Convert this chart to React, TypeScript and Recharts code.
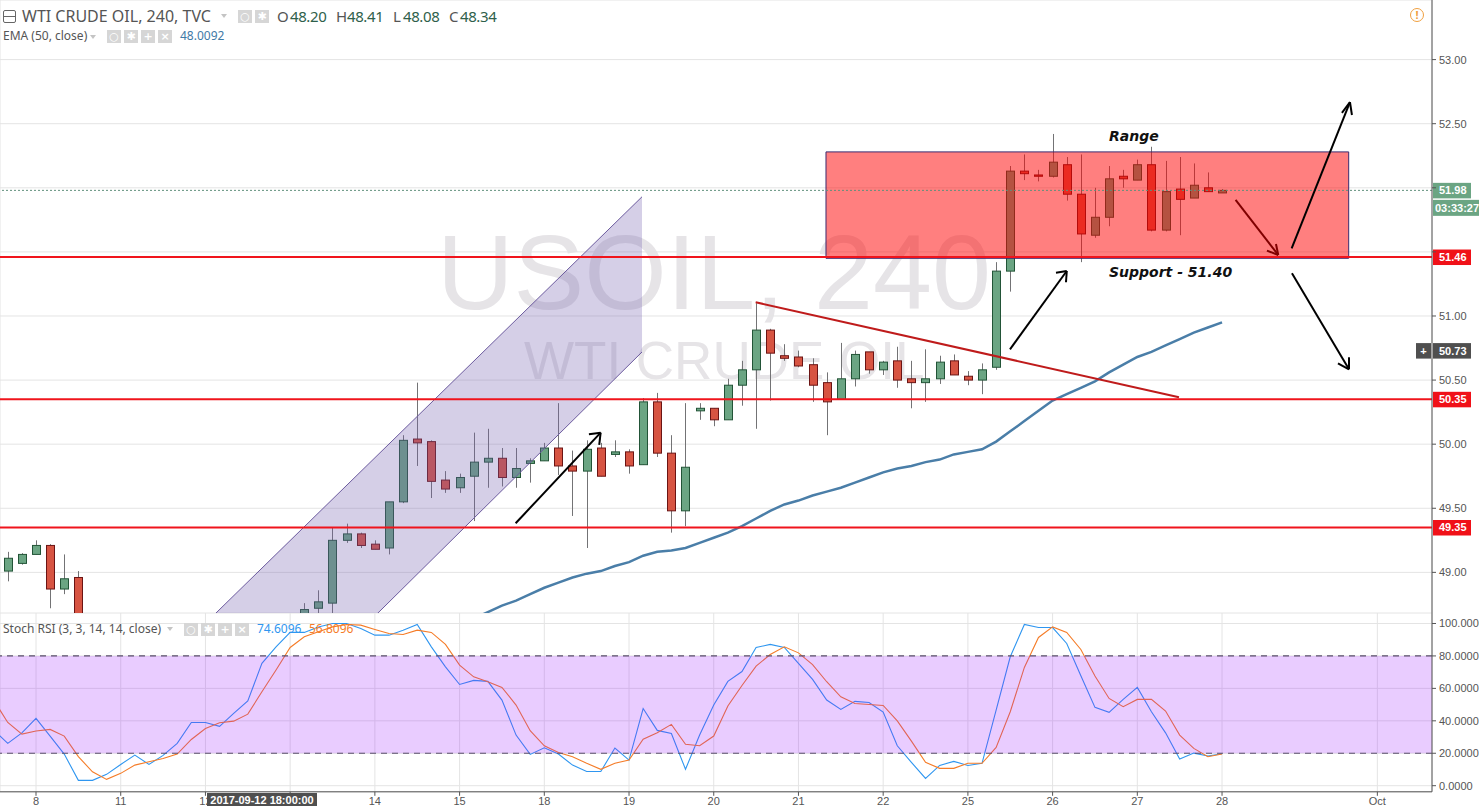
import {
  Area,
  Bar,
  CartesianGrid,
  ComposedChart,
  Line,
  ReferenceArea,
  ReferenceLine,
  XAxis,
  YAxis,
} from 'recharts';

// bar numbers: 0 is the first 4h bar of the 8th, six bars per day
const barDomain = [-2.55, 98.87];
const dayTicks = [0, 6, 12, 18, 24, 30, 36, 42, 48, 54, 60, 66, 72, 78, 84, 95];
// the 13 sits under the crosshair date, so it stays blank
const dayLabels = ['8', '11', '12', '', '14', '15', '18', '19', '20', '21', '22', '25', '26', '27', '28', 'Oct'];

const priceDomain = [48.683, 53.465];
const priceTicks = [49, 49.5, 50, 50.5, 51, 51.5, 52, 52.5, 53];
// these two labels are covered by the price tags
const coveredPriceTicks = [51.5, 52];
const rsiDomain = [-3.76, 106.47];
const rsiTicks = [0, 20, 40, 60, 80, 100];

// only the candles that show inside the price pane
const barSlots = [
  -2, -1, 0, 1, 2, 3, 19, 20, 21, 22, 23, 24, 25, 26, 27, 28, 29, 30, 31, 32, 33, 34, 35, 36, 37, 38, 39, 40, 41, 42,
  43, 44, 45, 46, 47, 48, 49, 50, 51, 52, 53, 54, 55, 56, 57, 58, 59, 60, 61, 62, 63, 64, 65, 66, 67, 68, 69, 70, 71,
  72, 73, 74, 75, 76, 77, 78, 79, 80, 81, 82, 83, 84,
];
const opens = [
  49.01, 49.07, 49.14, 49.21, 48.87, 48.96, 48.6, 48.72, 48.76, 49.25, 49.3, 49.22, 49.19, 49.55, 50.04, 50.02, 49.72,
  49.66, 49.75, 49.86, 49.89, 49.74, 49.85, 49.87, 49.97, 49.83, 49.79, 49.97, 49.92, 49.94, 49.84, 50.33, 49.93,
  49.48, 50.26, 50.28, 50.19, 50.46, 50.58, 50.89, 50.69, 50.68, 50.62, 50.48, 50.35, 50.51, 50.72, 50.58, 50.65,
  50.51, 50.48, 50.51, 50.65, 50.53, 50.5, 50.6, 51.35, 52.13, 52.1, 52.09, 52.18, 51.95, 51.63, 51.77, 52.09, 52.06,
  52.18, 51.67, 51.99, 51.92, 52.0, 51.96,
];
const highs = [
  49.16, 49.15, 49.25, 49.22, 49.14, 49.01, 48.76, 48.86, 49.35, 49.38, 49.31, 49.25, 49.55, 50.07, 50.48, 50.03,
  49.79, 49.77, 50.09, 50.12, 49.97, 49.97, 49.89, 50.01, 50.32, 49.95, 50.03, 50.01, 50.03, 49.96, 50.36, 50.4, 50.07,
  50.32, 50.32, 50.28, 50.51, 50.65, 51.1, 50.9, 50.78, 50.73, 50.67, 50.56, 50.79, 50.73, 50.72, 50.65, 50.76, 50.65,
  50.74, 50.69, 50.7, 50.57, 50.63, 51.42, 52.17, 52.26, 52.14, 52.42, 52.24, 52.26, 52.0, 52.17, 52.14, 52.22, 52.32,
  52.21, 52.24, 52.19, 52.12, 51.99,
];
const lows = [
  48.93, 49.06, 49.14, 48.72, 48.83, 48.5, 48.55, 48.65, 48.65, 49.23, 49.19, 49.18, 49.14, 49.54, 49.83, 49.58, 49.62,
  49.62, 49.4, 49.66, 49.67, 49.66, 49.7, 49.87, 49.76, 49.44, 49.19, 49.75, 49.9, 49.77, 49.84, 49.9, 49.31, 49.36,
  50.19, 50.14, 50.19, 50.3, 50.12, 50.34, 50.65, 50.6, 50.33, 50.07, 50.35, 50.45, 50.55, 50.54, 50.44, 50.28, 50.33,
  50.47, 50.54, 50.46, 50.39, 50.58, 51.19, 52.06, 52.05, 52.08, 51.9, 51.42, 51.61, 51.7, 52.0, 52.06, 51.66, 51.66,
  51.63, 51.92, 51.97, 51.96,
];
const closes = [
  49.11, 49.14, 49.21, 48.87, 48.95, 48.55, 48.71, 48.77, 49.25, 49.3, 49.21, 49.18, 49.55, 50.03, 50.01, 49.71, 49.65,
  49.74, 49.86, 49.89, 49.74, 49.81, 49.87, 49.97, 49.83, 49.79, 49.96, 49.75, 49.94, 49.83, 50.33, 49.93, 49.48,
  49.82, 50.28, 50.19, 50.46, 50.58, 50.89, 50.71, 50.67, 50.61, 50.46, 50.33, 50.51, 50.7, 50.58, 50.64, 50.5, 50.48,
  50.51, 50.64, 50.54, 50.5, 50.58, 51.35, 52.13, 52.11, 52.09, 52.2, 51.95, 51.64, 51.77, 52.07, 52.07, 52.18, 51.67,
  51.97, 51.91, 52.02, 51.97, 51.98,
];

// EMA 50, from bar 31 to bar 84
const emaFirstBar = 31;
const emaValues = [
  48.64, 48.69, 48.74, 48.78, 48.83, 48.88, 48.92, 48.96, 48.99, 49.01, 49.05, 49.08, 49.13, 49.16, 49.17, 49.19, 49.23,
  49.27, 49.31, 49.36, 49.42, 49.48, 49.53, 49.56, 49.6, 49.63, 49.66, 49.7, 49.74, 49.78, 49.81, 49.83, 49.86, 49.88,
  49.92, 49.94, 49.96, 50.02, 50.1, 50.18, 50.26, 50.34, 50.39, 50.44, 50.49, 50.56, 50.62, 50.68, 50.72, 50.77, 50.82,
  50.87, 50.91, 50.95,
];

// Stoch RSI, from bar -3 to bar 84
const rsiFirstBar = -3;
const rsiK = [
  34.3, 26.1, 32.6, 41.5, 30.6, 19.5, 3.3, 3.3, 7.0, 13.1, 18.9, 13.1, 18.7, 26.1, 39.0, 39.0, 36.6, 44.6, 52.2, 75.4,
  85.6, 94.5, 94.5, 97.9, 100, 100, 96.9, 92.8, 92.8, 95.9, 99.4, 85.6, 73.3, 62.4, 64.9, 64.3, 52.8, 31.2, 19.3, 23.4,
  19.5, 12.7, 8.8, 8.8, 23.2, 15.8, 47.6, 34.1, 32.2, 10.1, 31.2, 49.7, 64.3, 70.4, 85.2, 87.1, 85.2, 75.4, 65.5, 52.8,
  47.0, 52.0, 51.3, 45.4, 24.6, 14.4, 4.5, 12.5, 15.0, 12.5, 13.8, 46.6, 79.5, 99.4, 97.5, 97.5, 87.7, 67.8, 48.3, 45.2,
  53.2, 60.6, 45.6, 32.6, 16.4, 20.1, 18.3, 19.7,
];
const rsiD = [
  52.8, 39.0, 31.8, 33.7, 34.7, 30.6, 17.9, 8.6, 3.9, 7.6, 12.7, 14.8, 16.8, 19.5, 28.5, 35.3, 38.8, 39.8, 44.1, 57.9,
  71.3, 85.2, 91.8, 94.9, 97.9, 99.4, 99.0, 96.3, 93.8, 93.2, 95.9, 94.5, 87.1, 74.3, 67.1, 64.1, 60.6, 49.7, 33.9, 24.6,
  20.5, 17.9, 13.8, 10.1, 13.8, 15.8, 28.7, 32.6, 37.8, 25.5, 24.6, 30.6, 49.1, 61.8, 73.7, 80.9, 85.6, 81.9, 74.7, 64.1,
  54.8, 50.7, 50.1, 49.5, 40.0, 27.5, 14.4, 10.7, 10.7, 13.8, 13.8, 23.6, 45.6, 72.9, 91.4, 97.9, 94.5, 84.0, 67.6, 53.8,
  48.7, 53.2, 53.2, 46.0, 31.2, 23.0, 17.9, 19.5,
];

// drawings on the chart, as [bar, price]
const channelBars = [10.75, 42.92];
const channelLower = [47.217, 50.719];
const channelUpper = [48.468, 51.93];
const supportLevels = [51.46, 50.35, 49.35];
const trendLine = [[50.97, 51.107], [80.95, 50.366]];
const arrowUnderRange = [[84.96, 51.905], [87.98, 51.476], [87.82, 51.562], [87.18, 51.51]];
const arrowsOverRange = [
  [[33.97, 49.383], [39.99, 50.09], [39.16, 50.077], [39.89, 49.994]],
  [[68.98, 50.74], [73.0, 51.351], [72.24, 51.338], [72.95, 51.263]],
  [[88.93, 51.528], [93.06, 52.669], [92.49, 52.584], [93.2, 52.568]],
  [[88.95, 51.333], [92.99, 50.584], [92.21, 50.631], [92.99, 50.678]],
];

const candleRows = barSlots.map((bar, i) => ({
  bar,
  open: opens[i],
  high: highs[i],
  low: lows[i],
  close: closes[i],
  ema: bar >= emaFirstBar ? emaValues[bar - emaFirstBar] : undefined,
}));
const rsiRows = rsiK.map((k, i) => ({ bar: rsiFirstBar + i, k, d: rsiD[i] }));
const channelRows = channelBars.map((bar, i) => ({ bar, band: [channelLower[i], channelUpper[i]] }));

const tickStyle = { fontSize: 11, fill: '#555', fontFamily: '"Liberation Sans", Arial, sans-serif' };
const uiFont = '"Noto Sans", sans-serif';

function Candle(props: any) {
  const { x, y, width, height, payload } = props;
  const up = payload.close >= payload.open;
  const perUnit = height / (payload.high - payload.low);
  const top = y + (payload.high - Math.max(payload.open, payload.close)) * perUnit;
  const bottom = y + (payload.high - Math.min(payload.open, payload.close)) * perUnit;
  const mid = Math.round(x + width / 2) + 0.5;
  return (
    <g>
      <line x1={mid} x2={mid} y1={y} y2={y + height} stroke="#737375" strokeWidth={1} />
      <rect
        x={mid - 4}
        y={top}
        width={8}
        height={Math.max(bottom - top, 1)}
        fill={up ? '#6ba583' : '#d75442'}
        stroke={up ? '#225437' : '#6b1414'}
        strokeWidth={1}
      />
    </g>
  );
}

function PriceTag(props: any) {
  const { viewBox, text, fill, sub, plus } = props;
  const right = viewBox.x + viewBox.width;
  const y = viewBox.y;
  const font = { fontSize: 11, fontFamily: tickStyle.fontFamily, fontWeight: 700, fill: '#fff' };
  return (
    <g>
      <rect x={right + 1} y={y - 7.5} width={38} height={15.5} fill={fill} />
      <text x={right + 7} y={y + 4} {...font}>{text}</text>
      {sub && <rect x={right + 1} y={y + 9.5} width={47} height={16} fill={fill} />}
      {sub && <text x={right + 3} y={y + 21.5} {...font}>{sub}</text>}
      {plus && <rect x={right - 16} y={y - 7.5} width={15} height={15.5} fill={fill} />}
      {plus && <text x={right - 8.5} y={y + 4} textAnchor="middle" {...font}>+</text>}
    </g>
  );
}

function arrowLines(points: number[][], color: string, zIndex: number, name: string) {
  const [tail, tip, barbA, barbB] = points;
  return [[tail, tip], [barbA, tip], [barbB, tip]].map(([a, b], i) => (
    <ReferenceLine
      key={`${name}-${i}`}
      segment={[{ x: a[0], y: a[1] }, { x: b[0], y: b[1] }]}
      stroke={color}
      strokeWidth={2}
      zIndex={zIndex}
    />
  ));
}

function Label(props: any) {
  const { left, top, color = '#555', size = 12, font = uiFont, children, ...rest } = props;
  return (
    <div
      style={{
        position: 'absolute',
        left,
        top,
        color,
        fontSize: size,
        fontFamily: font,
        lineHeight: '16px',
        whiteSpace: 'nowrap',
        ...rest,
      }}
    >
      {children}
    </div>
  );
}

function IconRow({ left, top, count }: { left: number; top: number; count: number }) {
  const glyphs = ['○', '✱', '+', '×'];
  return (
    <>
      {glyphs.slice(0, count).map((g, i) => (
        <div
          key={i}
          style={{
            position: 'absolute',
            left: left + i * 17,
            top,
            width: 14,
            height: 13,
            background: '#d6d6d6',
            color: '#fff',
            fontSize: 11,
            lineHeight: '13px',
            textAlign: 'center',
            fontFamily: '"DejaVu Sans", sans-serif',
            fontWeight: 700,
          }}
        >
          {g}
        </div>
      ))}
    </>
  );
}

function Caret({ left, top }: { left: number; top: number }) {
  return (
    <div
      style={{
        position: 'absolute',
        left,
        top,
        width: 0,
        height: 0,
        borderLeft: '3px solid transparent',
        borderRight: '3px solid transparent',
        borderTop: '4px solid #c4c4c4',
      }}
    />
  );
}

export default function App() {
  return (
    <div style={{ position: 'absolute', left: 0, top: 0, width: 1479, height: 806, overflow: 'hidden', background: '#fff' }}>
      {/* watermark sits behind the transparent chart */}
      <Label left={437} top={212} size={106} color="#e6e4e7" font='"Liberation Sans", sans-serif' lineHeight="120px">
        USOIL, 240
      </Label>
      <Label left={524} top={330} size={53} color="#e6e4e7" font='"Liberation Sans", sans-serif' lineHeight="62px">
        WTI CRUDE OIL
      </Label>

      <div style={{ position: 'absolute', left: 0, top: 0 }}>
        <ComposedChart width={1479} height={613} data={candleRows} margin={{ top: 0, right: 0, bottom: 0, left: 0 }}>
          <CartesianGrid stroke="#e4e4e4" strokeWidth={1} />
          <XAxis
            dataKey="bar"
            type="number"
            scale="linear"
            domain={barDomain}
            ticks={dayTicks}
            allowDataOverflow
            height={0}
            tick={false}
            tickLine={false}
            axisLine={{ stroke: '#555' }}
          />
          <YAxis
            orientation="right"
            width={47}
            type="number"
            domain={priceDomain}
            ticks={priceTicks}
            allowDataOverflow
            interval={0}
            tick={tickStyle}
            tickSize={4}
            tickMargin={3}
            tickFormatter={(v: number) => (coveredPriceTicks.includes(v) ? '' : v.toFixed(2))}
            axisLine={{ stroke: '#555' }}
            tickLine={{ stroke: '#555' }}
          />
          <Bar
            dataKey={(row: any) => [row.low, row.high]}
            barSize={9}
            shape={Candle}
            isAnimationActive={false}
            zIndex={300}
          />
          <Line
            dataKey="ema"
            type="linear"
            stroke="#4a7ea8"
            strokeWidth={2.5}
            dot={false}
            isAnimationActive={false}
            zIndex={400}
          />
          <Area
            data={channelRows}
            dataKey="band"
            type="linear"
            fill="#735faf"
            fillOpacity={0.3}
            stroke="#6c5b9e"
            strokeWidth={1}
            dot={false}
            isAnimationActive={false}
            zIndex={420}
          />
          {arrowLines(arrowUnderRange, '#000', 430, 'under')}
          <ReferenceArea
            x1={55.95}
            x2={92.97}
            y1={51.45}
            y2={52.28}
            fill="#ff0000"
            fillOpacity={0.5}
            stroke="#3c2a6e"
            strokeOpacity={1}
            strokeWidth={1}
            zIndex={440}
          />
          <ReferenceLine
            y={51.98}
            stroke="#5f8f7b"
            strokeDasharray="2 2"
            strokeWidth={1}
            zIndex={445}
            label={<PriceTag text="51.98" fill="#6ba583" sub="03:33:27" />}
          />
          {supportLevels.map((level) => (
            <ReferenceLine
              key={level}
              y={level}
              stroke="#f0141c"
              strokeWidth={2}
              zIndex={450}
              label={<PriceTag text={level.toFixed(2)} fill="#f01118" />}
            />
          ))}
          <ReferenceLine
            y={50.73}
            stroke="none"
            zIndex={450}
            label={<PriceTag text="50.73" fill="#4f4f4f" plus />}
          />
          <ReferenceLine
            segment={[{ x: trendLine[0][0], y: trendLine[0][1] }, { x: trendLine[1][0], y: trendLine[1][1] }]}
            stroke="#bf1b1b"
            strokeWidth={2}
            zIndex={455}
          />
          {arrowsOverRange.map((points, i) => arrowLines(points, '#000', 460, `over${i}`))}
        </ComposedChart>
      </div>

      <div style={{ position: 'absolute', left: 0, top: 613 }}>
        <ComposedChart width={1479} height={193} data={rsiRows} margin={{ top: 0, right: 0, bottom: 0, left: 0 }}>
          <CartesianGrid stroke="#e4e4e4" strokeWidth={1} />
          <XAxis
            dataKey="bar"
            type="number"
            scale="linear"
            domain={barDomain}
            ticks={dayTicks}
            allowDataOverflow
            height={14.2}
            interval={0}
            tick={tickStyle}
            tickSize={4}
            tickMargin={1}
            tickFormatter={(v: number) => dayLabels[dayTicks.indexOf(v)]}
            axisLine={{ stroke: '#555' }}
            tickLine={{ stroke: '#555' }}
          />
          <YAxis
            orientation="right"
            width={47}
            type="number"
            domain={rsiDomain}
            ticks={rsiTicks}
            allowDataOverflow
            interval={0}
            tick={tickStyle}
            tickSize={4}
            tickMargin={3}
            tickFormatter={(v: number) => v.toFixed(4)}
            axisLine={{ stroke: '#555' }}
            tickLine={{ stroke: '#555' }}
          />
          <Line dataKey="k" type="linear" stroke="#2f96f0" strokeWidth={1.1} dot={false} isAnimationActive={false} zIndex={400} />
          <Line dataKey="d" type="linear" stroke="#f57c28" strokeWidth={1.1} dot={false} isAnimationActive={false} zIndex={410} />
          <ReferenceArea y1={20} y2={80} fill="#9915ff" fillOpacity={0.22} stroke="none" zIndex={420} />
          <ReferenceLine y={80} stroke="#5a4f6b" strokeDasharray="6 5" strokeWidth={1.2} zIndex={430} />
          <ReferenceLine y={20} stroke="#5a4f6b" strokeDasharray="6 5" strokeWidth={1.2} zIndex={430} />
        </ComposedChart>
      </div>

      {/* header legends */}
      <div
        style={{
          position: 'absolute',
          left: 3,
          top: 10,
          width: 11,
          height: 11,
          border: '1px solid #666',
          borderRadius: 2,
          background: 'linear-gradient(#fff 5px, #666 5px, #666 6px, #fff 6px)',
        }}
      />
      <Label left={22} top={8} size={16}>WTI CRUDE OIL, 240, TVC</Label>
      <Caret left={221} top={14} />
      <IconRow left={238} top={10} count={2} />
      <Label left={277} top={8} size={15} letterSpacing="-0.4px">O</Label>
      <Label left={290} top={8} size={15} color="#2f5f4b" letterSpacing="-0.4px">48.20</Label>
      <Label left={336} top={8} size={15} letterSpacing="-0.4px">H</Label>
      <Label left={347} top={8} size={15} color="#2f5f4b" letterSpacing="-0.4px">48.41</Label>
      <Label left={393} top={8} size={15} letterSpacing="-0.4px">L</Label>
      <Label left={403} top={8} size={15} color="#2f5f4b" letterSpacing="-0.4px">48.08</Label>
      <Label left={449} top={8} size={15} letterSpacing="-0.4px">C</Label>
      <Label left={460} top={8} size={15} color="#2f5f4b" letterSpacing="-0.4px">48.34</Label>

      <Label left={3} top={28} size={12}>EMA (50, close)</Label>
      <Caret left={90} top={35} />
      <IconRow left={107} top={30} count={4} />
      <Label left={180} top={28} size={12} color="#3f7aa6">48.0092</Label>

      <Label left={3} top={621} size={12}>Stoch RSI (3, 3, 14, 14, close)</Label>
      <Caret left={167} top={627} />
      <IconRow left={184} top={623} count={4} />
      <Label left={257} top={621} size={12} color="#2f96f0">74.6096</Label>
      <Label left={309} top={621} size={12} color="#f57c28">56.8096</Label>

      <div
        style={{
          position: 'absolute',
          left: 1410,
          top: 8,
          width: 12,
          height: 12,
          border: '1.5px solid #f0a040',
          borderRadius: '50%',
          color: '#f0a040',
          fontSize: 11,
          lineHeight: '12px',
          textAlign: 'center',
          fontFamily: uiFont,
          fontWeight: 700,
        }}
      >
        !
      </div>

      {/* text drawn on the chart */}
      <Label left={1109} top={128} size={14} color="#111" font='"DejaVu Sans", sans-serif' fontWeight={700} fontStyle="italic">
        Range
      </Label>
      <Label left={1109} top={264} size={14} color="#111" font='"DejaVu Sans", sans-serif' fontWeight={700} fontStyle="italic">
        Support - 51.40
      </Label>

      {/* crosshair date on the time scale */}
      <div
        style={{
          position: 'absolute',
          left: 207,
          top: 793,
          width: 110,
          height: 13,
          background: '#4f4f4f',
          color: '#fff',
          fontSize: 11,
          fontWeight: 700,
          lineHeight: '15px',
          textAlign: 'center',
          fontFamily: tickStyle.fontFamily,
          whiteSpace: 'nowrap',
        }}
      >
        2017-09-12 18:00:00
      </div>
    </div>
  );
}
